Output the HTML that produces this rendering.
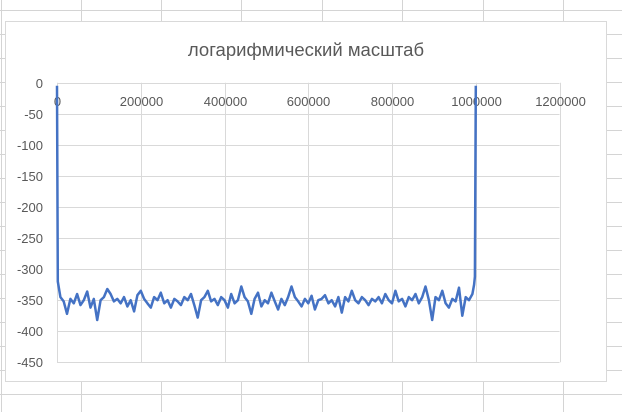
<!DOCTYPE html>
<html><head><meta charset="utf-8"><style>
html,body{margin:0;padding:0;background:#fff;}
svg{display:block;font-family:"Liberation Sans",sans-serif;}
</style></head><body>
<svg id="c" width="622" height="412" viewBox="0 0 622 412">
<g id="sheet"></g>
<rect x="5.5" y="21.5" width="601" height="360" fill="#fff" stroke="#d9d9d9"/>
<text x="306" y="56" text-anchor="middle" font-size="18.5" fill="#595959">логарифмический масштаб</text>
<g id="grid"></g>
<g id="ylab"></g>
<g id="xlab"></g>
<path id="series" fill="none" stroke="#4472c4" stroke-width="2.5" stroke-linejoin="round"/>
</svg>
<script>
const xTicks=[0,200000,400000,600000,800000,1000000,1200000];
const yTicks=[0,-50,-100,-150,-200,-250,-300,-350,-400,-450];
const xs=[0,2000,8000,16000,24000,32000,40000,48000,56000,64000,72000,80000,88000,96000,104000,112000,120000,128000,136000,144000,152000,160000,168000,176000,184000,192000,200000,208000,216000,224000,232000,240000,248000,256000,264000,272000,280000,288000,296000,304000,312000,320000,328000,336000,344000,352000,360000,368000,376000,384000,392000,400000,408000,416000,424000,432000,440000,448000,456000,464000,472000,480000,488000,496000,504000,512000,520000,528000,536000,544000,552000,560000,568000,576000,584000,592000,600000,608000,616000,624000,632000,640000,648000,656000,664000,672000,680000,688000,696000,704000,712000,720000,728000,736000,744000,752000,760000,768000,776000,784000,792000,800000,808000,816000,824000,832000,840000,848000,856000,864000,872000,880000,888000,896000,904000,912000,920000,928000,936000,944000,952000,960000,968000,976000,984000,992000,996000,998000,1000000];
const ys=[-5,-320,
-345,-352,-372,-348,-355,-340,-358,-350,-336,-362,
-348,-382,-350,-345,-332,-340,-352,-348,-355,-345,
-360,-350,-368,-342,-335,-348,-355,-362,-345,-350,
-338,-355,-350,-362,-348,-352,-358,-345,-350,-340,
-358,-378,-350,-345,-335,-352,-348,-358,-345,-350,
-362,-340,-355,-350,-328,-345,-352,-372,-348,-338,
-360,-350,-355,-338,-352,-365,-348,-358,-345,-328,
-345,-352,-360,-348,-355,-343,-365,-350,-348,-342,
-355,-350,-360,-345,-370,-345,-352,-335,-350,-355,
-345,-350,-358,-348,-352,-345,-355,-340,-350,-355,
-335,-352,-348,-360,-345,-350,-340,-355,-345,-328,
-350,-382,-345,-350,-335,-355,-362,-348,-352,-330,
-375,-345,-350,-340,
-325,-312,-5];
const NS="http://www.w3.org/2000/svg";
const X0=57,X1=559.5,Y0=82.7,Y1=362.3;
function sx(v){return X0+(v-0)/(1200000)*(X1-X0);}
function sy(v){return Y0+(0-v)/450*(Y1-Y0);}
function mk(t,a,p){const e=document.createElementNS(NS,t);for(const k in a)e.setAttribute(k,a[k]);p.appendChild(e);return e;}
// spreadsheet background
const sheet=document.getElementById('sheet');
for(let y=10;y<412;y+=24){const l=mk('line',{x1:0,x2:622,y1:y+.5,y2:y+.5,stroke:'#d4d4d4'},sheet);

}
for(const x of [1.5,81.5,161.5,241.5,322.5,402.5,483.5,563.5]){const l=mk('line',{x1:x,x2:x,y1:0,y2:412,stroke:'#d4d4d4'},sheet);

}
const grid=document.getElementById('grid');
for(const v of yTicks){const y=Math.round(sy(v))+.5;
const l=mk('line',{x1:X0,x2:X1,y1:y,y2:y,stroke:'#d9d9d9'},grid);


const t=mk('text',{x:43,y:y+4.5,'text-anchor':'end','font-size':13,fill:'#595959'},document.getElementById('ylab'));
t.textContent=v;

}
for(const v of xTicks){const x=Math.round(sx(v))+.5;
const l=mk('line',{x1:x,x2:x,y1:Y0,y2:Y1,stroke:'#d9d9d9'},grid);


const t=mk('text',{x:x,y:106,'text-anchor':'middle','font-size':13,fill:'#595959'},document.getElementById('xlab'));
t.textContent=v;

}
let d='';for(let i=0;i<xs.length;i++){d+=(i?'L':'M')+sx(xs[i]).toFixed(1)+','+sy(ys[i]).toFixed(1);}
document.getElementById('series').setAttribute('d',d);
</script>
</body></html>
